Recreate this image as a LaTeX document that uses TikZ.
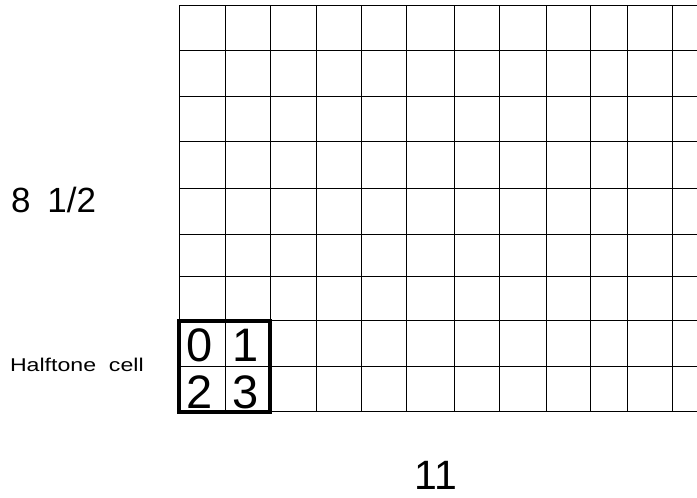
\documentclass[tikz,border=0pt]{standalone}
\usepackage{fontspec}
\setmainfont{Liberation Sans}
\begin{document}
\begin{tikzpicture}[x=1pt,y=-1pt,
  gridline/.style={line width=0.9pt,black},
  cellbox/.style={line width=3.8pt,black},
  lbl/.style={inner sep=0pt,outer sep=0pt}]
\useasboundingbox (0,0) rectangle (697,498);
% horizontal grid lines
\foreach \y in {5,50,96,141,188,234,276,320,366,411}
  \draw[gridline] (179,\y) -- (697,\y);
% vertical grid lines
\foreach \x in {179,225,270,316,361,406,454,499,546,590,627,672}
  \draw[gridline] (\x,5) -- (\x,411);
% halftone cell
\draw[cellbox] (179,321) rectangle (270,412);
\node[lbl,anchor=base,font=\fontsize{47}{47}\selectfont] (c0) at (200,361) {0};
\node[lbl,anchor=base,font=\fontsize{47}{47}\selectfont] (c1) at (246,361) {1};
\node[lbl,anchor=base,font=\fontsize{47}{47}\selectfont] (c2) at (200,408) {2};
\node[lbl,anchor=base,font=\fontsize{47}{47}\selectfont] (c3) at (245.5,408) {3};
% labels
\node[lbl,anchor=base west,font=\fontsize{35}{35}\selectfont] (h) at (11,212) {8\hspace{17pt}1/2};
\node[lbl,anchor=base west,font=\fontsize{18.5}{18.5}\selectfont] (hc) at (10,371.5) {\scalebox{1.25}[1]{Halftone\ \ cell}};
\node[lbl,anchor=base,font=\fontsize{41}{41}\selectfont] (w) at (436,489) {11};
\end{tikzpicture}
\end{document}
